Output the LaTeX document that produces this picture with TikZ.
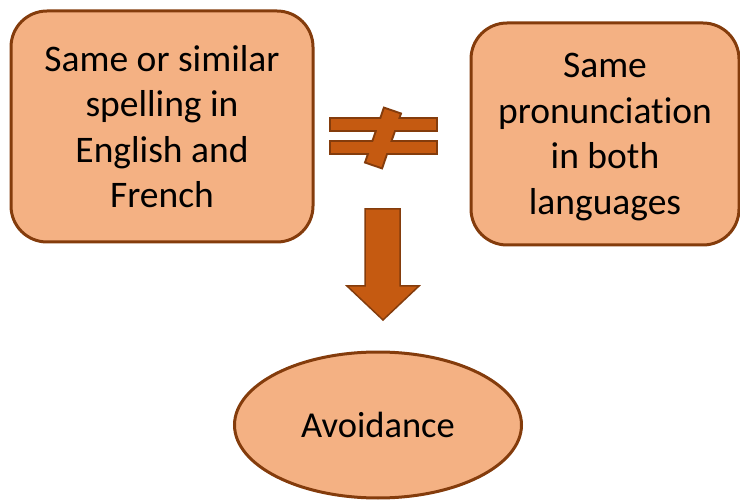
\documentclass[tikz,border=0pt]{standalone}
\usepackage{fontspec}
\setmainfont{Carlito}[Ligatures=NoCommon]
\usepackage{tikz}
\usetikzlibrary{shapes.geometric}

\definecolor{boxfill}{HTML}{F4B183}
\definecolor{boxline}{HTML}{843C0C}
\definecolor{signfill}{HTML}{C55A11}

\tikzset{
  idea/.style={draw=boxline, fill=boxfill, line width=3pt, rounded corners=36pt,
    align=center, font=\fontsize{37.5}{45.5}\selectfont, inner sep=0pt},
  result/.style={ellipse, draw=boxline, fill=boxfill, line width=3pt,
    font=\fontsize{36.5}{45}\selectfont, inner sep=0pt},
  signpart/.style={fill=signfill, draw=boxline, line width=4pt, line join=miter}
}

\begin{document}
\begin{tikzpicture}[x=1pt,y=1pt]
\useasboundingbox (0,0) rectangle (740,499);
% the two boxes
\node[idea, minimum width=302pt, minimum height=231pt] (spelling) at (162,372.5)
  {Same or similar\\spelling in\\English and\\French};
\node[idea, minimum width=268pt, minimum height=222pt, text depth=0pt,
  yshift=-2pt] (sound) at (605,367)
  {Same\\pronunciation\\in both\\languages};
% not equal sign
\draw[signpart] (331,369) rectangle (436,380);
\draw[signpart] (331,346) rectangle (436,357);
\draw[signpart, rotate around={-19:(383,361)}] (375,333) rectangle (391,389);
\fill[signfill] (331,369) rectangle (436,380);
\fill[signfill] (331,346) rectangle (436,357);
\fill[signfill, rotate around={-19:(383,361)}] (375,333) rectangle (391,389);
% block arrow
\filldraw[fill=signfill, draw=boxline, line width=1.5pt, line join=miter]
  (365,290) -- (400,290) -- (400,213) -- (419,213) -- (383,179)
  -- (347,213) -- (365,213) -- cycle;
% result
\node[result, minimum width=287pt, minimum height=146pt] (avoid) at (378,74) {Avoidance};
\end{tikzpicture}
\end{document}
